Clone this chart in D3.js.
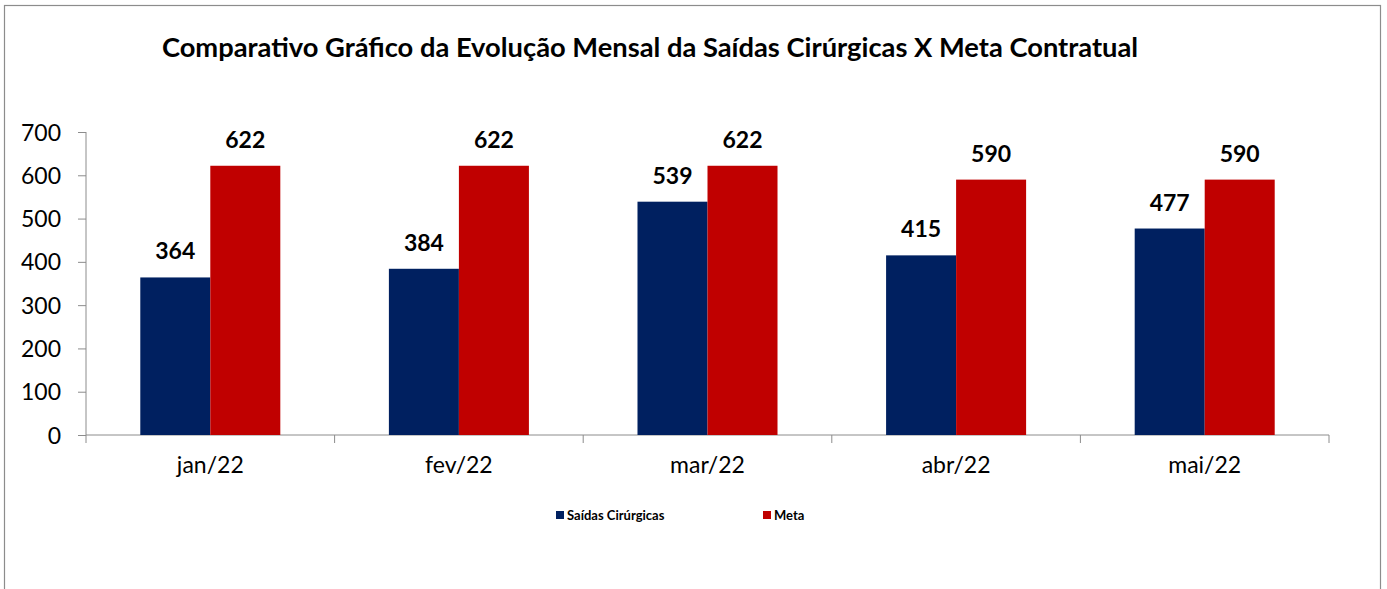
<!DOCTYPE html>
<html><head><meta charset="utf-8">
<script src="https://cdn.jsdelivr.net/npm/d3@7"></script>
<style>body{margin:0;background:#fff;} svg{display:block;}</style>
</head><body>
<svg id="c" width="1387" height="589"></svg>
<script>
const categories = ["jan/22","fev/22","mar/22","abr/22","mai/22"];
const saidas = [364, 384, 539, 415, 477];
const meta = [622, 622, 622, 590, 590];
const seriesNames = ["Saídas Cirúrgicas","Meta"];
const seriesColors = ["#002060","#C00000"];
const yTicks = [0,100,200,300,400,500,600,700];
const title = "Comparativo Gráfico da Evolução Mensal da Saídas Cirúrgicas X Meta Contratual";

(function(){
const svg = d3.select("#c");
const font = "Lato, 'Open Sans', sans-serif";

// outer frame
svg.append("rect").attr("x",4.5).attr("y",5.5).attr("width",1376).attr("height",600)
  .attr("fill","none").attr("stroke","#8c8c8c").attr("stroke-width",1.2);

const pL = 86, pR = 1329, pT = 132, pB = 435;
const x = d3.scaleBand().domain(categories).range([pL,pR]).paddingInner(0).paddingOuter(0);
const y = d3.scaleLinear().domain([0,700]).range([pB,pT]);
const inner = d3.scaleBand().domain([0,1]).range([0, x.bandwidth()]).paddingInner(0).paddingOuter(0.7755);

svg.append("text").attr("x",650).attr("y",57).attr("text-anchor","middle")
  .attr("font-family",font).attr("font-weight","bold").attr("font-size",27.3).attr("fill","#000")
  .text(title);

// y axis
const yAxis = svg.append("g").attr("transform",`translate(${pL},0)`)
  .call(d3.axisLeft(y).tickValues(yTicks).tickSize(8).tickPadding(17).tickFormat(d3.format("d")));
yAxis.select(".domain").attr("stroke","#8c8c8c").attr("d",`M-0,${pB}V${pT}`);
yAxis.selectAll(".tick line").attr("stroke","#8c8c8c");
yAxis.selectAll("text").attr("font-family",font).attr("font-size",23).attr("fill","#000").attr("dy","0.35em");

// x axis
const xAxis = svg.append("g").attr("transform",`translate(0,${pB})`)
  .call(d3.axisBottom(x).tickSize(0).tickPadding(22));
xAxis.select(".domain").attr("stroke","#8c8c8c").attr("d",`M${pL},0H${pR}`);
xAxis.selectAll("text").attr("font-family",font).attr("font-size",23).attr("fill","#000").attr("dy","0.71em");
// category boundary ticks
const bounds = categories.map(c=>x(c)).concat([pR]);
svg.append("g").selectAll("line").data(bounds).join("line")
  .attr("x1",d=>d).attr("x2",d=>d).attr("y1",pB).attr("y2",pB+8)
  .attr("stroke","#8c8c8c");

const series = [saidas, meta];
series.forEach((vals,si)=>{
  const g = svg.append("g");
  g.selectAll("rect").data(vals).join("rect")
    .attr("x",(d,i)=>x(categories[i])+inner(si))
    .attr("width",inner.bandwidth())
    .attr("y",d=>y(d)).attr("height",d=>pB-y(d))
    .attr("fill",seriesColors[si]);
  g.selectAll("text").data(vals).join("text")
    .attr("x",(d,i)=>x(categories[i])+inner(si)+inner.bandwidth()/2)
    .attr("y",d=>y(d)-18)
    .attr("text-anchor","middle").attr("font-family",font).attr("font-weight","bold")
    .attr("font-size",23).attr("fill","#000").text(d=>d);
});

// legend
const legX = [556, 763];
seriesNames.forEach((n,i)=>{
  svg.append("rect").attr("x",legX[i]).attr("y",511).attr("width",8).attr("height",8).attr("fill",seriesColors[i]);
  svg.append("text").attr("x",legX[i]+11).attr("y",520).attr("font-family",font).attr("font-weight","bold")
    .attr("font-size",13).attr("fill","#000").text(n);
});
})();
</script>
</body></html>
